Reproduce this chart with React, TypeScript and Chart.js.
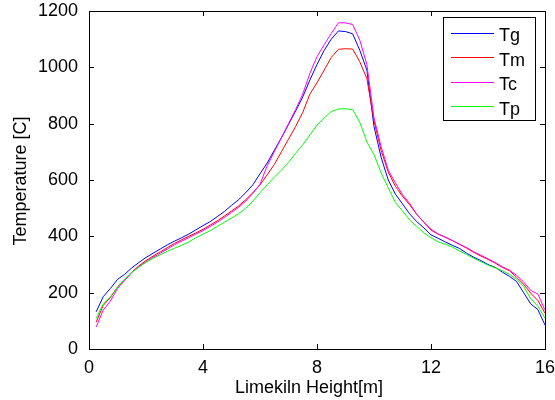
import React, { useEffect, useRef } from "react";
import { Chart, registerables } from "chart.js";
Chart.register(...registerables);

const heights = [
  0.25, 0.5, 0.75, 1.0, 1.25, 1.5, 1.75, 2.0, 2.25, 2.5, 2.75, 3.0, 3.25, 3.5, 3.75, 4.0,
  4.25, 4.5, 4.75, 5.0, 5.25, 5.5, 5.75, 6.0, 6.25, 6.5, 6.75, 7.0, 7.25, 7.5, 7.75, 8.0,
  8.25, 8.5, 8.75, 9.0, 9.25, 9.5, 9.75, 10.0, 10.25, 10.5, 10.75, 11.0, 11.25, 11.5, 11.75, 12.0,
  12.25, 12.5, 12.75, 13.0, 13.25, 13.5, 13.75, 14.0, 14.25, 14.5, 14.75, 15.0, 15.25, 15.5, 15.75, 16.0,
];

const Tg = [
  132, 186, 215, 247, 265, 288, 307, 325, 340, 355, 370, 383, 395, 408, 423, 438,
  452, 470, 488, 510, 530, 555, 583, 622, 660, 705, 750, 797, 845, 895, 955, 1010,
  1060, 1100, 1129, 1127, 1119, 1061, 990, 790, 680, 600, 550, 515, 480, 452, 430, 405,
  393, 380, 368, 357, 340, 326, 314, 300, 290, 273, 258, 240, 200, 160, 140, 85,
];

const Tm = [
  95, 155, 183, 220, 245, 273, 295, 314, 330, 345, 360, 375, 388, 400, 412, 425,
  440, 455, 472, 490, 508, 530, 555, 583, 618, 655, 700, 745, 790, 840, 905, 945,
  990, 1035, 1064, 1066, 1065, 1020, 960, 810, 705, 628, 578, 542, 512, 478, 450, 425,
  408, 397, 385, 372, 358, 343, 330, 318, 305, 290, 278, 255, 230, 198, 172, 127,
];

const Tc = [
  78, 138, 170, 215, 243, 272, 292, 310, 325, 340, 355, 370, 383, 395, 408, 420,
  435, 450, 467, 485, 503, 525, 553, 585, 650, 700, 750, 800, 850, 905, 979, 1038,
  1080, 1120, 1158, 1158, 1152, 1097, 1010, 820, 718, 635, 590, 548, 517, 478, 450, 422,
  408, 397, 385, 372, 360, 345, 333, 320, 307, 292, 280, 262, 238, 208, 195, 138,
];

const Tp = [
  108, 160, 185, 220, 248, 272, 290, 308, 322, 335, 347, 358, 368, 380, 395, 408,
  420, 435, 450, 465, 480, 500, 525, 555, 583, 610, 635, 662, 695, 725, 760, 795,
  820, 843, 852, 853, 850, 805, 735, 690, 625, 572, 520, 490, 458, 435, 412, 395,
  380, 372, 362, 348, 335, 322, 310, 298, 288, 278, 265, 248, 222, 178, 152, 109,
];

const seriesNames = ["Tg", "Tm", "Tc", "Tp"];
const seriesColors = ["#0000ff", "#ff0000", "#ff00ff", "#00ff00"];
const xTicks = [0, 4, 8, 12, 16];
const yTicks = [0, 200, 400, 600, 800, 1000, 1200];
const xTitle = "Limekiln Height[m]";
const yTitle = "Temperature [C]";

const FONT = "Arial, 'Liberation Sans', sans-serif";

export default function App() {
  const ref = useRef<HTMLCanvasElement>(null);

  useEffect(() => {
    const canvas = ref.current;
    if (!canvas) return;
    const values = [Tg, Tm, Tc, Tp];
    const datasets = values.map((vals, i) => ({
      label: seriesNames[i],
      data: heights.map((h, j) => ({ x: h, y: vals[j] })),
      borderColor: seriesColors[i],
      backgroundColor: seriesColors[i],
      borderWidth: 1,
      pointRadius: 0,
      tension: 0,
      fill: false,
      order: values.length - i,
    }));

    const framePlugin = {
      id: "frame",
      afterDraw(chart: any) {
        const { ctx, chartArea } = chart;
        const { left, right, top, bottom } = chartArea;
        const xs = chart.scales.x;
        const ys = chart.scales.y;
        ctx.save();
        ctx.strokeStyle = "#000";
        ctx.lineWidth = 1;
        ctx.beginPath();
        ctx.rect(Math.round(left) + 0.5, Math.round(top) + 0.5, Math.round(right - left), Math.round(bottom - top));
        ctx.stroke();
        const tl = 5;
        ctx.beginPath();
        xTicks.forEach((v) => {
          const px = Math.round(xs.getPixelForValue(v)) + 0.5;
          ctx.moveTo(px, bottom);
          ctx.lineTo(px, bottom - tl);
          ctx.moveTo(px, top);
          ctx.lineTo(px, top + tl);
        });
        yTicks.forEach((v) => {
          const py = Math.round(ys.getPixelForValue(v)) + 0.5;
          ctx.moveTo(left, py);
          ctx.lineTo(left + tl, py);
          ctx.moveTo(right, py);
          ctx.lineTo(right - tl, py);
        });
        ctx.stroke();

        ctx.fillStyle = "#000";
        ctx.font = `18px ${FONT}`;
        ctx.textAlign = "center";
        ctx.textBaseline = "alphabetic";
        ctx.fillText(xTitle, 309, 393);
        ctx.save();
        ctx.translate(26, 181);
        ctx.rotate(-Math.PI / 2);
        ctx.fillText(yTitle, 0, 0);
        ctx.restore();

        const lx = 443.5, ly = 17.5, lw = 92, lh = 103;
        ctx.fillStyle = "#fff";
        ctx.fillRect(lx, ly, lw, lh);
        ctx.strokeStyle = "#000";
        ctx.strokeRect(lx, ly, lw, lh);
        chart.data.datasets.forEach((ds: any, i: number) => {
          const y = 32.5 + i * 24.5;
          ctx.strokeStyle = ds.borderColor;
          ctx.beginPath();
          ctx.moveTo(451, Math.round(y) + 0.5);
          ctx.lineTo(494, Math.round(y) + 0.5);
          ctx.stroke();
          ctx.fillStyle = "#000";
          ctx.textAlign = "left";
          ctx.textBaseline = "alphabetic";
          ctx.fillText(ds.label, 499, y + 8.5);
        });
        ctx.restore();
      },
    };

    const chart = new Chart(canvas, {
      type: "line",
      data: { datasets },
      options: {
        responsive: false,
        animation: false,
        devicePixelRatio: 1,
        layout: { padding: { left: 0, right: 10, top: 11, bottom: 0 } },
        plugins: { legend: { display: false }, tooltip: { enabled: false } },
        scales: {
          x: {
            type: "linear",
            min: 0,
            max: 16,
            afterBuildTicks: (s: any) => {
              s.ticks = xTicks.map((v) => ({ value: v }));
            },
            afterFit: (s: any) => {
              s.height = 51;
              s.paddingLeft = 0;
              s.paddingRight = 0;
            },
            ticks: {
              font: { family: FONT, size: 18 },
              color: "#000",
              padding: 8,
              maxRotation: 0,
              autoSkip: false,
              callback: (v: any) => String(v),
            },
            grid: { display: true, drawOnChartArea: false, drawTicks: false },
            border: { display: true, color: "#000", width: 1 },
          },
          y: {
            type: "linear",
            min: 0,
            max: 1200,
            afterBuildTicks: (s: any) => {
              s.ticks = yTicks.map((v) => ({ value: v }));
            },
            afterFit: (s: any) => {
              s.width = 89;
              s.paddingTop = 0;
              s.paddingBottom = 0;
            },
            ticks: {
              font: { family: FONT, size: 18 },
              color: "#000",
              padding: 11,
              autoSkip: false,
              callback: (v: any) => String(v),
            },
            grid: { display: true, drawOnChartArea: false, drawTicks: false },
            border: { display: true, color: "#000", width: 1 },
          },
        },
      },
      plugins: [framePlugin],
    });
    return () => chart.destroy();
  }, []);

  return (
    <div style={{ position: "absolute", left: 0, top: 0, width: 555, height: 400, background: "#fff" }}>
      <canvas ref={ref} width={555} height={400} style={{ width: 555, height: 400, display: "block" }} />
    </div>
  );
}
